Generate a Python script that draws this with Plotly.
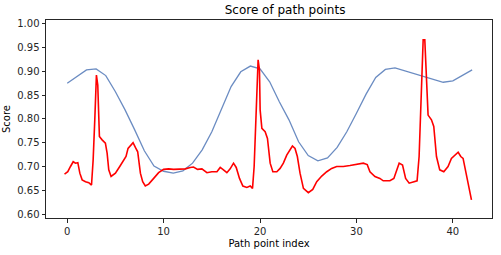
import plotly.graph_objects as go

blue_x = list(range(43))
blue_y = [0.875, 0.889, 0.903, 0.905, 0.891, 0.857, 0.819, 0.777, 0.733, 0.701,
          0.690, 0.686, 0.691, 0.707, 0.735, 0.773, 0.819, 0.868, 0.899, 0.911,
          0.905, 0.878, 0.836, 0.798, 0.752, 0.723, 0.712, 0.718, 0.740, 0.773,
          0.812, 0.852, 0.887, 0.904, 0.907, 0.901, 0.896, 0.890, 0.883, 0.877,
          0.880, 0.891, 0.903]

red_x = [-0.28, 0.06, 0.34, 0.62, 0.86, 1.1, 1.31, 1.55, 1.9, 2.24, 2.52, 2.69, 2.86,
         3.03, 3.17, 3.34, 3.62, 3.96, 4.14, 4.31, 4.55, 5.0, 5.45, 5.86, 6.1, 6.31,
         6.62, 6.83, 7.07, 7.31, 7.59, 7.83, 8.1, 8.45, 8.97, 9.48, 10.0, 10.52, 11.03,
         11.73, 12.25, 12.76, 13.1, 13.52, 13.97, 14.49, 15.0, 15.53, 15.87, 16.21,
         16.56, 16.9, 17.25, 17.53, 17.87, 18.22, 18.63, 18.98, 19.22, 19.39, 19.6,
         19.8, 19.94, 20.01, 20.19, 20.53, 20.77, 21.05, 21.33, 21.74, 22.08, 22.42,
         22.77, 23.12, 23.36, 23.63, 23.87, 24.15, 24.5, 25.01, 25.47, 25.88, 26.4,
         26.92, 27.43, 27.95, 28.64, 29.33, 30.02, 30.71, 31.12, 31.4, 31.92, 32.43,
         32.78, 33.47, 33.88, 34.16, 34.43, 34.78, 35.1, 35.47, 35.88, 36.29, 36.5,
         36.74, 36.92, 37.09, 37.26, 37.43, 37.78, 38.02, 38.3, 38.64, 39.06, 39.5,
         39.85, 40.2, 40.55, 40.82, 41.06, 41.93]
red_y = [0.684, 0.689, 0.700, 0.710, 0.707, 0.708, 0.686, 0.672, 0.668, 0.666, 0.661,
         0.714, 0.798, 0.892, 0.871, 0.763, 0.756, 0.749, 0.728, 0.693, 0.679, 0.686,
         0.700, 0.715, 0.721, 0.738, 0.745, 0.750, 0.740, 0.731, 0.686, 0.668, 0.659,
         0.663, 0.675, 0.687, 0.694, 0.695, 0.694, 0.694, 0.695, 0.698, 0.699, 0.694,
         0.695, 0.687, 0.689, 0.689, 0.698, 0.693, 0.687, 0.695, 0.707, 0.698, 0.675,
         0.659, 0.656, 0.659, 0.654, 0.700, 0.819, 0.924, 0.903, 0.819, 0.780, 0.773,
         0.759, 0.707, 0.689, 0.689, 0.696, 0.707, 0.724, 0.735, 0.743, 0.738, 0.721,
         0.686, 0.654, 0.645, 0.652, 0.668, 0.680, 0.689, 0.696, 0.700, 0.700, 0.702,
         0.705, 0.707, 0.704, 0.689, 0.679, 0.675, 0.670, 0.670, 0.675, 0.693, 0.707,
         0.703, 0.675, 0.665, 0.667, 0.670, 0.721, 0.861, 0.966, 0.966, 0.868, 0.808,
         0.798, 0.784, 0.721, 0.693, 0.689, 0.700, 0.717, 0.724, 0.730, 0.721, 0.717,
         0.630]

x_ticks = [0, 10, 20, 30, 40]
y_ticks = [0.60, 0.65, 0.70, 0.75, 0.80, 0.85, 0.90, 0.95, 1.00]

fig = go.Figure()
fig.add_trace(go.Scatter(x=blue_x, y=blue_y, mode="lines",
                         line=dict(color="#6b8cc2", width=1.3), showlegend=False))
fig.add_trace(go.Scatter(x=red_x, y=red_y, mode="lines",
                         line=dict(color="#ff0000", width=1.6), showlegend=False))

axis_common = dict(showline=True, linecolor="#262626", linewidth=1, mirror=True,
                   ticks="outside", ticklen=3.5, tickwidth=1, tickcolor="#262626",
                   showgrid=False, zeroline=False, automargin=False,
                   tickfont=dict(family="DejaVu Sans", size=10, color="#262626"))

fig.update_layout(
    width=501, height=255,
    margin=dict(l=46, r=9, t=20, b=37),
    paper_bgcolor="white", plot_bgcolor="white",
    hovermode=False,
    title=dict(text="Score of path points", x=0.536, xanchor="center",
               xref="paper", y=0.962, yref="container", yanchor="middle", automargin=False,
               font=dict(family="DejaVu Sans", size=12, color="#000000")),
    xaxis=dict(range=[-2.2, 44.06], tickvals=x_ticks, ticktext=[str(t) for t in x_ticks],
               title=dict(text="Path point index", standoff=4,
                          font=dict(family="DejaVu Sans", size=10, color="#000000")),
               **axis_common),
    yaxis=dict(range=[0.5918, 1.0078], tickvals=y_ticks, ticktext=[f"{t:.2f}" for t in y_ticks],
               title=dict(text="Score", standoff=4,
                          font=dict(family="DejaVu Sans", size=10, color="#000000")),
               **axis_common),
)

fig.write_html("out.html",
               config={"displayModeBar": False, "staticPlot": True},
               post_script="document.body.style.margin='0';document.body.style.overflow='hidden';")
